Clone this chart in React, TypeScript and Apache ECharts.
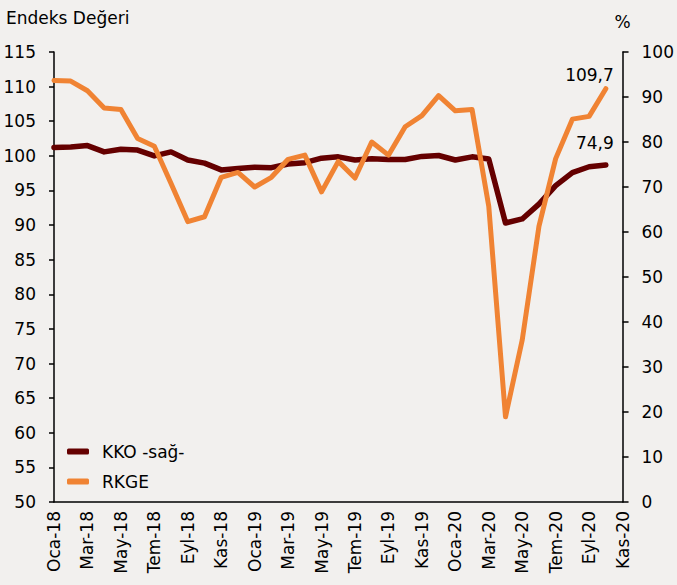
import React, { useEffect, useRef } from "react";
import * as echarts from "echarts";

const months = ["Oca", "Şub", "Mar", "Nis", "May", "Haz", "Tem", "Ağu", "Eyl", "Eki", "Kas", "Ara"];
const years = ["18", "19", "20"];
const categories: string[] = [];
for (const y of years) for (const m of months) categories.push(`${m}-${y}`);
const xLabels = categories.slice(0, 35); // Oca-18 .. Kas-20

const rkge = [110.9, 110.8, 109.4, 106.9, 106.7, 102.5, 101.4, 96.0, 90.5, 91.2, 96.9, 97.6, 95.5, 96.9, 99.5, 100.1, 94.8, 99.2, 96.8, 102.0, 100.1, 104.2, 105.8, 108.7, 106.5, 106.7, 92.7, 62.3, 73.4, 89.8, 99.6, 105.3, 105.7, 109.7];
const kko = [78.8, 78.9, 79.2, 77.8, 78.4, 78.2, 76.9, 77.8, 76.0, 75.3, 73.8, 74.1, 74.4, 74.3, 75.1, 75.4, 76.4, 76.7, 76.0, 76.3, 76.1, 76.1, 76.8, 77.0, 76.0, 76.7, 76.2, 62.0, 62.9, 66.2, 70.3, 73.2, 74.5, 74.9];

const FONT = "DejaVu Sans";
const fmt = (v: number) => String(v).replace(".", ",");

export default function App() {
  const ref = useRef<HTMLDivElement>(null);
  useEffect(() => {
    const chart = echarts.init(ref.current!, null, { renderer: "svg" });
    chart.setOption({
      animation: false,
      backgroundColor: "#F2F0EE",
      textStyle: { fontFamily: FONT, color: "#000" },
      title: {
        text: "Endeks Değeri",
        left: 1,
        top: 4,
        textStyle: { fontFamily: FONT, fontSize: 17, fontWeight: "normal", color: "#000" },
      },
      grid: { left: 54, right: 53, top: 52, bottom: 83, containLabel: false },
      legend: {
        orient: "vertical",
        left: 62,
        top: 438,
        itemWidth: 22,
        itemHeight: 6,
        itemGap: 13,
        icon: "roundRect",
        textStyle: { fontFamily: FONT, fontSize: 17, color: "#000", padding: [0, 0, 0, 8] },
        data: ["KKO -sağ-", "RKGE"],
      },
      xAxis: {
        type: "category",
        data: xLabels,
        boundaryGap: false,
        axisLine: { lineStyle: { color: "#000", width: 1.5 } },
        axisTick: { show: false },
        axisLabel: {
          interval: 1,
          rotate: 90,
          margin: 9,
          fontSize: 17,
          color: "#000",
          fontFamily: FONT,
        },
        splitLine: { show: false },
      },
      yAxis: [
        {
          type: "value",
          min: 50,
          max: 115,
          interval: 5,
          position: "left",
          axisLine: { show: true, lineStyle: { color: "#000", width: 1.5 } },
          axisTick: { show: true, length: 5, inside: false, lineStyle: { color: "#000", width: 1.5 } },
          axisLabel: { margin: 18, fontSize: 17, color: "#000", fontFamily: FONT },
          splitLine: { show: false },
        },
        {
          type: "value",
          min: 0,
          max: 100,
          interval: 10,
          position: "right",
          name: "%",
          nameLocation: "end",
          nameGap: 22,
          nameTextStyle: { fontSize: 17, color: "#000", fontFamily: FONT, align: "center" },
          axisLine: { show: true, lineStyle: { color: "#000", width: 1.5 } },
          axisTick: { show: true, length: 6, inside: false, lineStyle: { color: "#000", width: 1.5 } },
          axisLabel: { margin: 19, fontSize: 17, color: "#000", fontFamily: FONT },
          splitLine: { show: false },
        },
      ],
      series: [
        {
          name: "KKO -sağ-",
          type: "line",
          yAxisIndex: 1,
          data: kko,
          symbol: "none",
          color: "#650000",
          lineStyle: { color: "#650000", width: 5.5, cap: "round", join: "round" },
          endLabel: {
            show: true,
            formatter: (p: any) => fmt(p.value),
            align: "right",
            offset: [0, -22],
            fontSize: 17,
            color: "#000",
            fontFamily: FONT,
          },
        },
        {
          name: "RKGE",
          type: "line",
          yAxisIndex: 0,
          data: rkge,
          symbol: "none",
          color: "#F08333",
          lineStyle: { color: "#F08333", width: 5, cap: "round", join: "round" },
          endLabel: {
            show: true,
            formatter: (p: any) => fmt(p.value),
            align: "right",
            offset: [0, -14],
            fontSize: 17,
            color: "#000",
            fontFamily: FONT,
          },
        },
      ],
    });
    return () => chart.dispose();
  }, []);
  return (
    <div
      ref={ref}
      style={{ position: "absolute", left: 0, top: 0, width: 677, height: 585 }}
    />
  );
}
